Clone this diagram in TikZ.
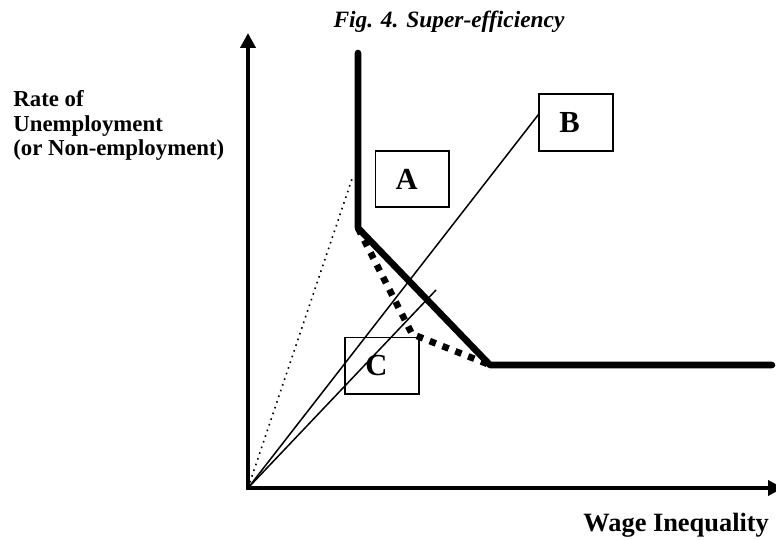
\documentclass[tikz,border=0pt]{standalone}
\usepackage{fontspec}
\setmainfont{Liberation Serif}
\usetikzlibrary{arrows.meta}

\begin{document}
\begin{tikzpicture}[x=0.5pt, y=-0.5pt, >={Triangle[length=7.5pt,width=7.5pt]},
    axis/.style={line width=2.4pt, line join=miter},
    frontier/.style={line width=3.3pt, line cap=round, line join=round},
    hull/.style={line width=3.3pt, dash pattern=on 3.3pt off 3.6pt},
    ray/.style={line width=0.75pt},
    lbl/.style={font=\fontsize{11.4}{12.25}\selectfont\bfseries,
                align=left, inner sep=0pt},
    dmu/.style={draw, line width=0.85pt, inner xsep=10pt, inner ysep=0pt,
                text width=16.7pt, minimum height=28.2pt, align=left,
                font=\fontsize{15.3}{16}\selectfont\bfseries}]

  \useasboundingbox (0,0) rectangle (776,540);
  \clip (0,0) rectangle (776,540);

  %% ── Title and axis labels ───────────────────────────────────
  \node[font=\fontsize{11.7}{13}\selectfont\bfseries\itshape, anchor=base]
    (title) at (449,28) {Fig. 4. Super-efficiency};
  \node[lbl, anchor=base west] (ylab) at (13,155.7)
    {Rate of\\Unemployment\\(or Non-employment)};
  \node[lbl, font=\fontsize{13.2}{14}\selectfont\bfseries, anchor=base west]
    (xlab) at (583,531.7) {Wage Inequality};

  %% ── Axes ────────────────────────────────────────────────────
  \coordinate (O) at (248,488);
  \coordinate (ytip) at (248,33);
  \coordinate (xtip) at (783,488);
  \draw[axis, <->] (ytip) -- (O) -- (xtip);

  %% ── Units ───────────────────────────────────────────────────
  \node[dmu] (A) at (412.2,179) {A};
  \node[dmu] (B) at (576,122.5) {B};
  \node[dmu] (C) at (382,365.7) {C};

  %% ── Frontier and hull ───────────────────────────────────────
  \coordinate (f1) at (358,53);
  \coordinate (f2) at (358,228);
  \coordinate (f3) at (490,365);
  \coordinate (f4) at (772,365);
  \coordinate (d1) at (412,334);
  \draw[frontier] (f1) -- (f2) -- (f3) -- (f4);
  \draw[hull] (f2) -- (d1) -- (f3);

  %% ── Rays from the origin ────────────────────────────────────
  \coordinate (rA) at (353,176);
  \coordinate (rC) at (436,290);
  \draw[ray] (O) -- (B.168);
  \draw[ray] (O) -- (rC);
  \draw[ray, line width=0.8pt, dash pattern=on 0.8pt off 2.2pt] (O) -- (rA);

\end{tikzpicture}
\end{document}
